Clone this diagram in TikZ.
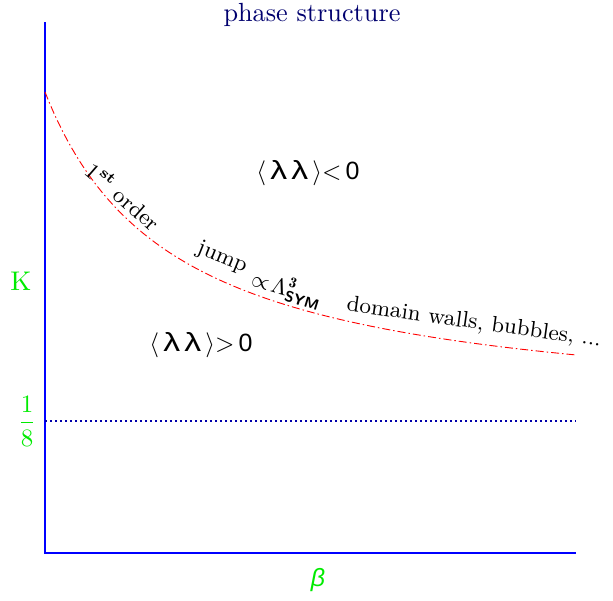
\documentclass[tikz,border=0pt]{standalone}
\usepackage{amsmath}
\usepackage{graphicx}
\usepackage{fontspec}
\newfontfamily\lsans{Liberation Sans}
\newcommand\widelam{\scalebox{1.35}[1.05]{\lsans λ}}
\definecolor{navy}{RGB}{0,0,110}
\definecolor{dotblue}{RGB}{0,0,170}
\definecolor{pgreen}{RGB}{0,235,0}
\begin{document}
\begin{tikzpicture}[x=0.4pt,y=-0.4pt,
  axis/.style={blue,line width=0.52pt},
  lbl/.style={pgreen,inner sep=0pt},
  curvetxt/.style={inner sep=0pt,font=\fontsize{9}{9}\selectfont\addfontfeature{LetterSpace=7}},
  region/.style={inner sep=0pt,font=\fontsize{10}{10}\selectfont}]
\useasboundingbox (0,0) rectangle (613,600);
\node[navy,inner sep=0pt,font=\fontsize{10.5}{10.5}\selectfont\addfontfeature{LetterSpace=9}] (title) at (312,15) {phase structure};
\coordinate (top) at (45,22);
\coordinate (origin) at (45,553);
\coordinate (xend) at (576,553);
\draw[axis] (top) -- (origin) -- (xend);
\coordinate (d1) at (45,421);
\coordinate (d2) at (576,421);
\draw[dotblue,line width=0.45pt,dash pattern=on 0.6pt off 1.4pt] (d1) -- (d2);
\draw[red,line width=0.36pt,dash pattern=on 3.2pt off 1.2pt on 0.6pt off 1.2pt,domain=45:576,samples=120]
  plot (\x,{418.8-421.27/((\x+83.9)/100)});
\node[lbl,font=\fontsize{10.8}{10.8}\selectfont] (K) at (21,281) {K};
\node[lbl,font=\fontsize{10.4}{10.4}\selectfont] (frac) at (27,421) {$\dfrac{1}{8}$};
\node[lbl,font=\fontsize{10}{10}\selectfont\lsans\itshape] (beta) at (318,580) {β};
\node[region] (neg) at (308,173) {$\langle$\,\widelam\,\widelam\,$\rangle$$<$\,{\lsans 0}};
\node[region] (pos) at (201,345) {$\langle$\,\widelam\,\widelam\,$\rangle$$>$\,{\lsans 0}};
\node[curvetxt,rotate=-41] (first) at (124,196) {1\textsuperscript{\bfseries st} order};
\node[curvetxt,rotate=-22] (jump) at (222,258) {jump};
\node[curvetxt,rotate=-17] (prop) at (287,289) {$\propto\!\Lambda^{\mathbf 3}_{\text{\sffamily\bfseries SYM}}$};
\node[curvetxt,rotate=-8] (dom) at (474,323) {domain walls, bubbles, ...};
\end{tikzpicture}
\end{document}
